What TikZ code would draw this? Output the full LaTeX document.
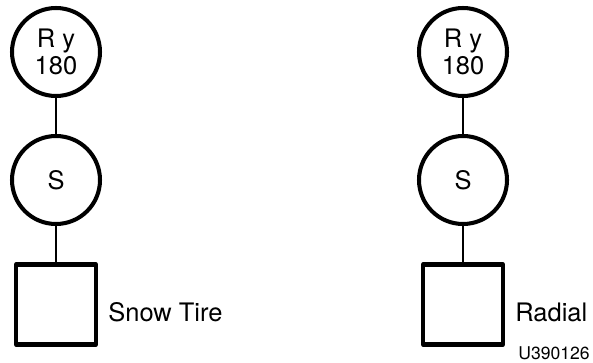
\documentclass[tikz,border=0pt]{standalone}
\usepackage{fontspec}
\setmainfont{TeX Gyre Heros}
\usetikzlibrary{positioning}
\tikzset{
  op/.style={circle,draw,line width=2.3pt,minimum size=1.76cm,inner sep=0pt,
    align=center,font=\fontsize{14.5}{15.5}\selectfont},
  leaf/.style={rectangle,draw,line width=2.3pt,minimum size=1.6cm,inner sep=0pt},
  tag/.style={inner sep=0pt,font=\fontsize{14.5}{16}\selectfont},
  link/.style={line width=0.9pt}
}
\begin{document}
\begin{tikzpicture}[line cap=round,line join=round]
  \useasboundingbox (0,0) rectangle (11.86,7.24);
  \foreach \x/\n/\tire in {1.12/L/Snow Tire,9.26/R/Radial}{
    \node[op] (rot\n) at (\x,6.2) {R y\\180};
    \node[op] (scl\n) at (\x,3.64) {S};
    \node[leaf] (box\n) at (\x,1.15) {};
    \node[tag,right=0.2cm of box\n.east,yshift=-0.16cm] (name\n) {\tire};
    \draw[link] (rot\n) -- (scl\n);
    \draw[link] (scl\n) -- (box\n);
  }
  \node[inner sep=0pt,font=\fontsize{10}{12}\selectfont,anchor=south east] (code) at (11.8,0.04) {U390126};
\end{tikzpicture}
\end{document}
